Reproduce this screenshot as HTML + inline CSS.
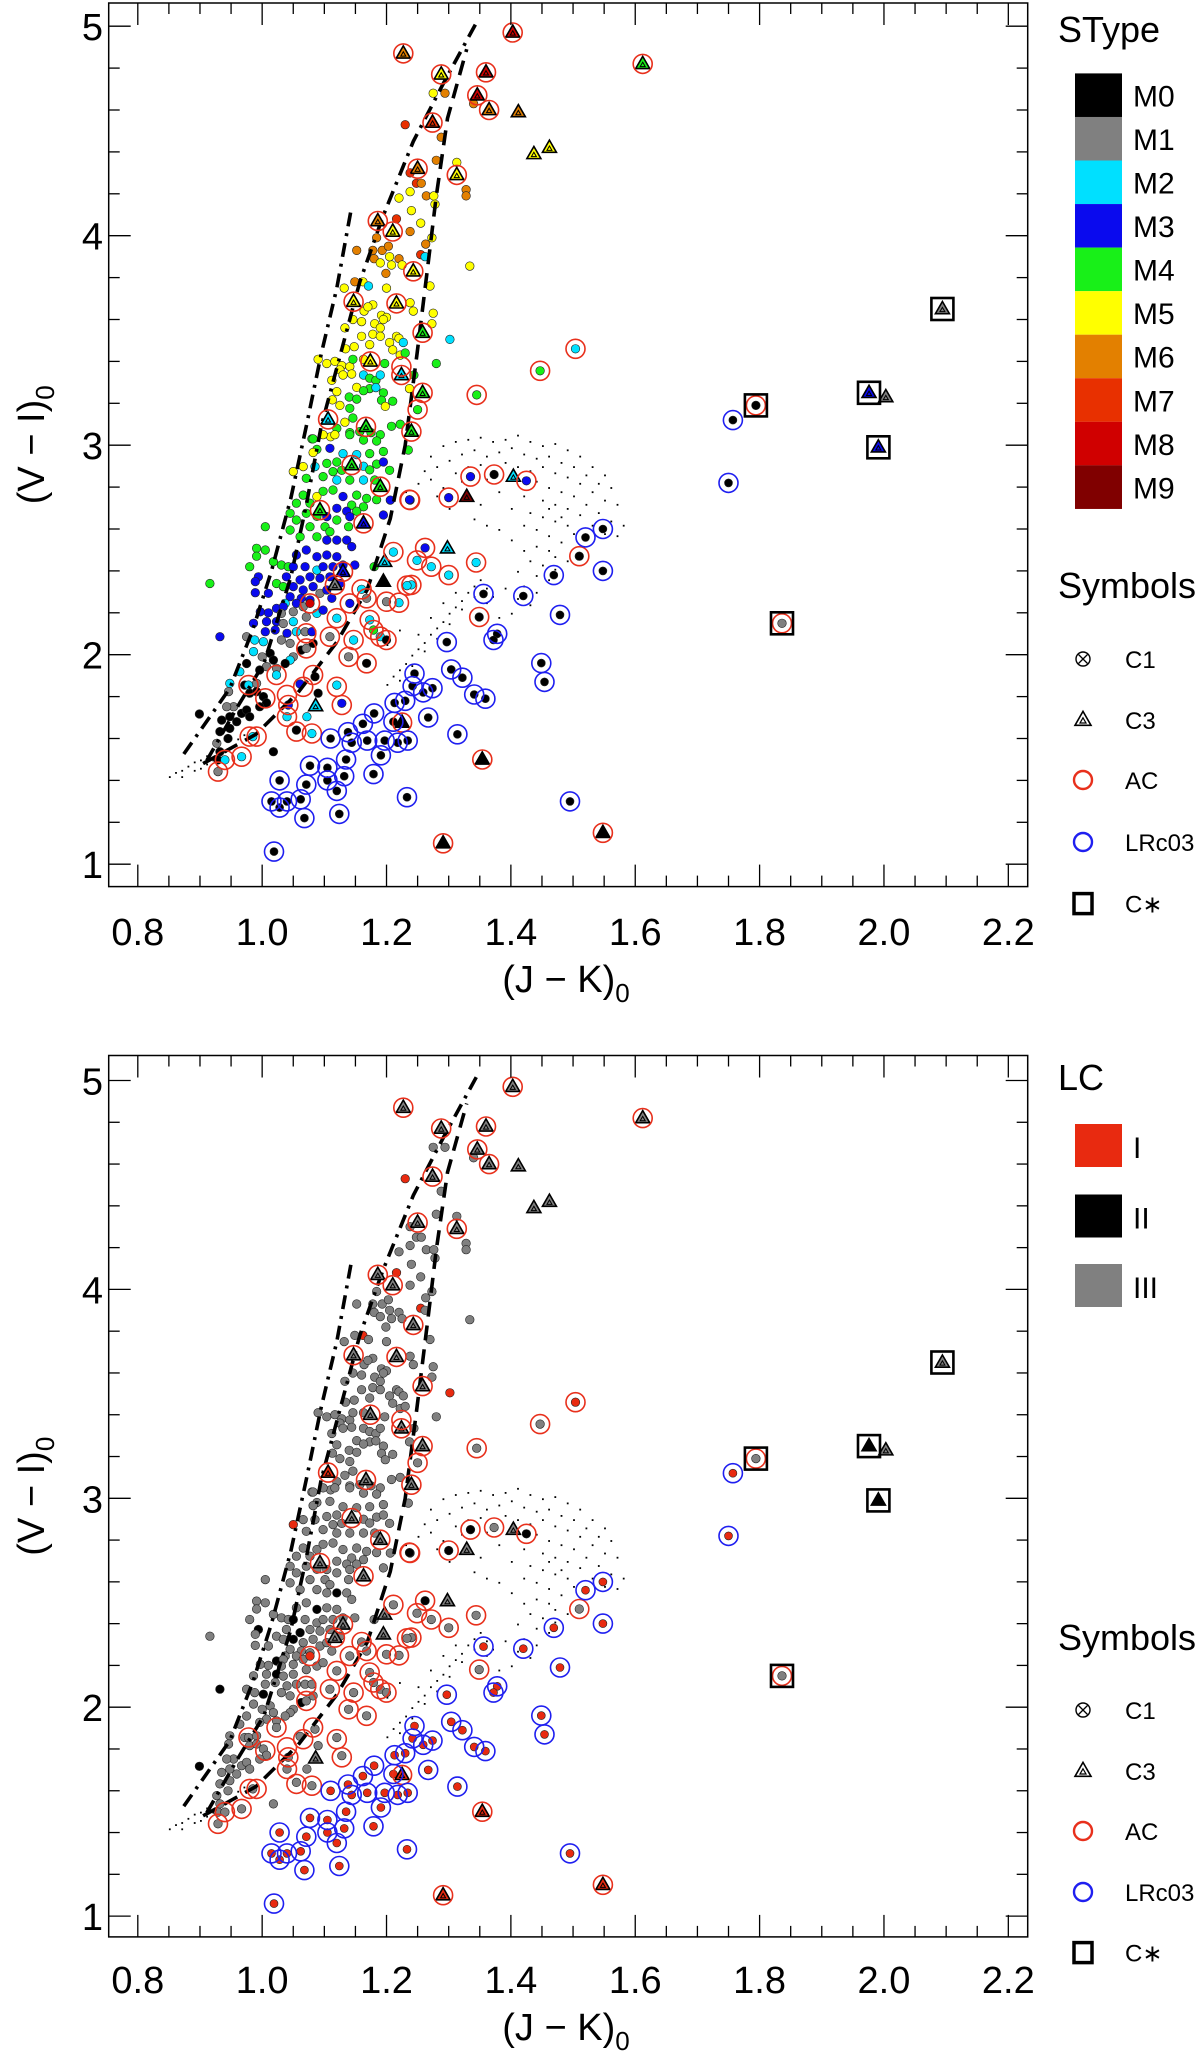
<!DOCTYPE html>
<html><head><meta charset="utf-8"><title>CMD (V-I) vs (J-K)</title>
<style>
html,body{margin:0;padding:0;background:#fff;}
svg{display:block;font-family:"Liberation Sans",sans-serif;}
</style></head>
<body>
<svg id="fig" width="1200" height="2056" viewBox="0 0 1200 2056" xmlns="http://www.w3.org/2000/svg"></svg>
<script>
// ---------- data ----------
const stypeLabels = ["M0","M1","M2","M3","M4","M5","M6","M7","M8","M9"];
const stypeColors = ["#000000","#808080","#00e0ff","#0a0aee","#18f018","#ffff00","#e38000","#e83000","#d00000","#800000"];
const lcLabels = ["I","II","III"];
const lcColors = ["#e82a10","#000000","#808080"];
const xTickLabels = ["0.8","1.0","1.2","1.4","1.6","1.8","2.0","2.2"];
const xTickValues = [0.8,1.0,1.2,1.4,1.6,1.8,2.0,2.2];
const yTickLabels = ["1","2","3","4","5"];
const yTickValues = [1,2,3,4,5];

// dots: [J-K, V-I, stype index, LC (1=I,2=II,3=III)]
const dots = [
[1.275,4.68,5,3],[1.294,4.68,6,3],[1.34,4.63,6,3],[1.23,4.53,7,1],[1.288,4.47,6,3],[1.28,4.36,6,3],[1.313,4.35,5,3],[1.238,4.30,7,3],[1.248,4.25,7,3],[1.256,4.25,6,3],[1.238,4.21,5,3],[1.22,4.18,5,3],[1.264,4.19,6,3],[1.276,4.19,5,3],[1.278,4.15,5,3],[1.328,4.22,6,3],[1.328,4.19,6,3],[1.24,4.12,5,3],[1.216,4.08,7,1],[1.255,4.06,5,3],[1.184,3.99,6,3],[1.238,4.02,6,3],[1.273,3.99,5,3],[1.263,3.96,6,3],[1.152,3.93,6,3],[1.178,3.93,6,3],[1.193,3.93,6,3],[1.203,3.95,6,3],[1.18,3.89,6,3],[1.19,3.87,5,3],[1.208,3.86,5,3],[1.22,3.89,6,3],[1.225,3.86,5,3],[1.205,3.90,5,3],[1.255,3.91,7,1],[1.262,3.90,2,3],[1.199,3.82,6,3],[1.334,3.855,5,3],[1.149,3.78,6,3],[1.162,3.78,5,1],[1.171,3.76,2,3],[1.132,3.75,5,3],[1.2,3.75,5,3],[1.27,3.76,5,3],[1.164,3.64,5,3],[1.178,3.67,5,3],[1.17,3.66,5,3],[1.192,3.62,5,3],[1.2,3.61,5,3],[1.238,3.68,5,3],[1.243,3.64,5,3],[1.275,3.63,5,3],[1.273,3.58,5,3],[1.146,3.60,5,3],[1.16,3.59,5,3],[1.133,3.56,5,3],[1.181,3.58,5,3],[1.19,3.56,5,3],[1.195,3.6,5,3],[1.178,3.53,5,3],[1.19,3.52,5,3],[1.16,3.52,5,3],[1.216,3.52,5,3],[1.22,3.51,5,3],[1.227,3.49,2,3],[1.302,3.505,2,1],[1.205,3.49,5,3],[1.173,3.48,5,3],[1.148,3.47,5,3],[1.134,3.46,5,3],[1.21,3.455,5,3],[1.222,3.43,5,3],[1.23,3.44,4,3],[1.28,3.39,4,3],[1.09,3.41,5,3],[1.104,3.39,5,3],[1.117,3.40,5,3],[1.128,3.38,5,3],[1.141,3.375,5,3],[1.146,3.41,4,3],[1.163,3.41,5,3],[1.197,3.39,4,3],[1.244,3.335,4,3],[1.125,3.36,5,3],[1.13,3.335,5,3],[1.144,3.34,5,3],[1.163,3.335,2,3],[1.173,3.32,4,3],[1.183,3.31,4,3],[1.19,3.335,2,3],[1.152,3.276,5,3],[1.173,3.27,4,3],[1.183,3.275,2,3],[1.195,3.25,4,3],[1.163,3.26,4,3],[1.12,3.256,5,3],[1.112,3.31,5,3],[1.14,3.23,4,3],[1.152,3.22,4,3],[1.192,3.215,4,3],[1.198,3.185,5,3],[1.21,3.21,4,3],[1.237,3.27,5,3],[1.113,3.216,5,3],[1.125,3.19,5,3],[1.141,3.176,4,3],[1.133,3.11,5,3],[1.146,3.13,4,3],[1.141,3.06,4,3],[1.11,3.04,5,3],[1.08,3.03,4,3],[1.12,3.08,4,3],[1.157,3.065,4,3],[1.175,3.06,4,3],[1.19,3.05,4,3],[1.208,3.09,4,3],[1.222,3.1,4,3],[1.25,3.17,4,3],[1.345,3.24,4,3],[1.447,3.355,4,3],[1.504,3.46,2,1],
[1.082,3.03,4,3],[1.098,3.05,5,3],[1.117,3.05,5,3],[1.141,3.05,4,3],[1.163,3.025,4,3],[1.184,3.02,4,3],[1.088,2.98,4,3],[1.109,2.985,3,3],[1.13,2.96,2,3],[1.152,2.955,2,3],[1.173,2.96,4,3],[1.195,2.97,4,3],[1.235,2.977,4,3],[1.082,2.965,5,3],[1.05,2.874,5,1],[1.066,2.898,5,3],[1.085,2.898,2,3],[1.104,2.913,4,3],[1.12,2.92,4,3],[1.114,2.874,4,3],[1.128,2.88,4,3],[1.163,2.9,2,3],[1.173,2.882,4,3],[1.184,2.91,4,3],[1.195,2.92,3,3],[1.205,2.88,4,3],[1.071,2.842,4,3],[1.098,2.85,4,3],[1.12,2.834,2,3],[1.141,2.834,4,3],[1.163,2.834,2,3],[1.181,2.834,4,3],[1.19,2.8,4,3],[1.088,2.755,5,3],[1.066,2.762,4,3],[1.077,2.723,4,3],[1.098,2.78,4,3],[1.114,2.786,4,3],[1.13,2.755,3,3],[1.152,2.762,4,3],[1.168,2.746,4,3],[1.144,2.714,4,3],[1.163,2.706,4,3],[1.184,2.74,4,3],[1.206,2.738,3,3],[1.238,2.738,3,2],[1.055,2.723,4,3],[1.045,2.675,4,3],[1.055,2.643,4,3],[1.071,2.675,4,3],[1.088,2.66,4,3],[1.104,2.659,3,3],[1.12,2.699,3,3],[1.136,2.685,3,3],[1.152,2.685,4,3],[1.141,2.659,3,3],[1.12,2.643,4,3],[1.139,2.611,4,3],[1.101,2.611,4,3],[1.077,2.611,4,3],[1.109,2.587,4,3],[1.005,2.611,4,3],[1.045,2.595,4,3],[1.061,2.563,4,3],[1.088,2.563,4,3],[1.104,2.547,3,3],[1.12,2.547,3,2],[1.136,2.547,3,3],[1.144,2.516,3,3],[1.195,2.667,3,3],[0.991,2.508,4,3],[1.005,2.5,4,3],[0.991,2.47,4,3],[1.018,2.444,4,3],[1.031,2.428,4,3],[1.042,2.42,4,3],[0.98,2.42,4,3],[1.023,2.34,4,3],[1.034,2.325,4,3],[0.916,2.34,4,3],[0.994,2.372,3,2],[1.071,2.5,3,3],[1.088,2.468,3,2],[1.104,2.476,3,3],[1.12,2.468,3,3],[1.055,2.476,3,3],[1.05,2.42,3,2],[1.069,2.42,3,3],[1.088,2.404,2,3],[1.098,2.42,3,3],[1.114,2.42,3,3],[1.13,2.428,3,3],[1.149,2.428,3,3],[1.18,2.42,4,3],[1.039,2.372,3,3],[1.061,2.357,3,2],[1.077,2.372,3,3],[1.093,2.365,3,3],[1.109,2.372,3,3],[1.125,2.34,3,3],[1.05,2.325,3,2],[1.066,2.309,3,3],[1.082,2.325,3,3],[1.093,2.293,1,3],[1.104,2.309,3,3],[1.112,2.269,3,3],[1.063,2.269,3,3],[1.077,2.261,3,3],[1.045,2.277,3,3],[1.055,2.245,3,3],[1.037,2.245,2,3],[0.989,2.349,3,3],[0.989,2.296,3,3],[1.01,2.293,3,3],[0.997,2.205,3,3],[1.01,2.2,3,3],[1.023,2.221,3,2],[1.034,2.229,3,3],[1.031,2.197,1,3],[1.05,2.205,1,3],[1.066,2.229,1,3],[1.071,2.18,1,3],[1.088,2.197,2,3],[1.098,2.213,3,3],[1.007,2.158,3,3],[1.023,2.158,3,2],[1.034,2.149,1,3],[1.05,2.158,2,3],[1.04,2.102,3,3],[0.986,2.15,3,3],[0.975,2.086,1,3],[0.988,2.07,2,3],[1.002,2.062,2,2],[1.005,2.11,3,3],[1.021,2.118,3,3],[1.031,2.07,1,3],[1.045,2.054,1,3],[1.055,2.11,2,3],[1.069,2.11,1,3],[1.08,2.11,3,3],[1.082,2.054,0,3],[1.063,2.022,0,2],[1.05,1.99,1,3],[0.932,2.086,3,2],[0.986,2.015,2,3],[1.0,1.99,1,3],[1.013,2.006,0,3],[1.018,1.974,0,3],[1.045,1.974,2,3],[1.037,1.958,0,3],[1.007,1.943,1,3],[1.023,1.935,1,3],[0.996,1.927,0,3],[0.975,1.958,0,3],[0.964,1.919,2,3],[0.948,1.863,2,3],[0.946,1.824,1,3],[0.972,1.855,0,3],[0.991,1.863,1,3],[0.98,1.816,0,3],[0.991,1.824,0,3],[1.002,1.8,0,3],[1.007,1.77,0,3],[0.996,1.752,0,3],[0.954,1.752,1,3],[0.943,1.752,1,3],[0.967,1.72,0,3],[0.975,1.736,0,3],[0.98,1.704,0,3],[0.948,1.704,0,3],[0.959,1.68,0,3],[0.935,1.688,0,3],[0.948,1.648,0,3],[0.932,1.633,0,3],[0.899,1.717,0,2],[0.945,1.6,0,3],[0.927,1.577,1,3],[0.929,1.498,0,3],[0.932,1.537,0,3],[1.085,1.895,0,3],[1.09,1.816,0,3],[1.018,1.537,0,3],[1.072,1.704,2,3],[1.08,1.624,2,3],[1.055,1.64,0,3],[1.128,1.768,3,3],[1.12,1.855,2,3],[1.023,1.903,2,3],[0.978,1.855,2,3],[0.985,1.609,2,3],[0.94,1.498,2,3],[0.967,1.513,2,3],[0.929,1.442,1,3],[1.061,1.86,3,3],[1.042,1.76,3,3],[1.04,1.704,2,3],[1.141,2.245,3,3],[1.16,2.312,2,3],[1.168,2.269,1,3],[1.2,2.253,1,3],[1.22,2.248,2,3],[1.24,2.333,2,3],[1.12,2.174,2,3],[1.109,2.086,1,3],[1.147,2.07,2,3],[1.173,2.166,2,3],[1.179,2.118,4,3],[1.19,2.086,2,3],[1.2,2.07,0,3],[1.139,1.99,1,3],[1.168,1.959,0,3],[1.071,2.03,1,3],[1.077,2.245,8,1],[1.117,2.333,1,3],
[1.335,2.85,3,2],[1.373,2.86,0,3],[1.425,2.83,3,2],[1.237,2.74,3,2],[1.30,2.75,3,2],[1.211,2.49,2,3],[1.262,2.51,3,2],[1.249,2.45,2,3],[1.272,2.42,2,3],[1.30,2.38,2,3],[1.344,2.44,2,3],[1.51,2.47,0,3],[1.233,2.33,2,3],[1.349,2.18,0,3],[1.794,3.19,0,3],[1.836,2.15,1,3]
];

// C3 triangles: [J-K, V-I, stype, LC]
const tris = [
[1.403,4.97,8,3],[1.227,4.87,6,3],[1.612,4.82,4,3],[1.288,4.77,5,3],[1.36,4.78,8,3],[1.346,4.67,8,3],[1.365,4.60,6,3],[1.412,4.59,6,3],[1.437,4.39,5,3],[1.462,4.42,5,3],[1.274,4.54,7,3],[1.25,4.32,6,3],[1.313,4.29,5,3],[1.186,4.07,6,3],[1.21,4.02,5,3],[1.243,3.83,5,3],[1.147,3.685,5,3],[1.216,3.677,5,3],[1.258,3.537,4,3],[1.174,3.40,5,3],[1.224,3.335,2,3],[1.258,3.25,4,3],[1.106,3.123,2,1],[1.167,3.088,4,3],[1.24,3.065,4,3],[1.144,2.905,4,3],[1.19,2.802,4,3],[1.093,2.69,4,3],[1.163,2.627,3,3],[1.117,2.333,1,3],[1.13,2.396,3,3],[1.298,2.508,2,3],[1.197,2.444,2,3],[1.195,2.349,0,3],[1.329,2.754,9,3],[1.404,2.85,2,3],[1.086,1.755,2,3],[1.225,1.676,0,1],[1.354,1.50,0,1],[1.291,1.10,0,1],[1.548,1.15,0,1],[2.094,3.65,1,3],[1.976,3.25,3,2],[2.003,3.23,1,3],[1.991,2.99,3,2]
];

// AC rings (red)
const acRings = [
[1.403,4.97],[1.227,4.87],[1.612,4.82],[1.288,4.77],[1.36,4.78],[1.346,4.67],[1.365,4.60],[1.274,4.54],[1.25,4.32],[1.313,4.29],[1.186,4.07],[1.21,4.02],[1.243,3.83],[1.147,3.685],[1.216,3.677],[1.258,3.537],[1.174,3.40],[1.224,3.335],[1.224,3.375],[1.258,3.25],[1.106,3.123],[1.167,3.088],[1.24,3.065],[1.144,2.905],[1.19,2.802],[1.093,2.69],[1.163,2.627],[1.117,2.333],[1.13,2.396],[1.225,1.676],[1.354,1.50],[1.291,1.10],[1.548,1.15],
[1.504,3.46],[1.447,3.355],[1.345,3.24],[1.25,3.17],[1.335,2.85],[1.373,2.86],[1.425,2.83],[1.237,2.74],[1.30,2.75],[1.211,2.49],[1.262,2.51],[1.249,2.45],[1.272,2.42],[1.30,2.38],[1.344,2.44],[1.51,2.47],[1.233,2.33],[1.349,2.18],[1.794,3.19],[1.836,2.15],
[1.077,2.245],[1.16,2.312],[1.168,2.269],[1.2,2.253],[1.22,2.248],[1.24,2.333],[1.141,2.245],[1.12,2.174],[1.071,2.102],[1.109,2.086],[1.147,2.07],[1.173,2.166],[1.179,2.118],[1.19,2.086],[1.2,2.07],[1.139,1.99],[1.168,1.959],[1.071,2.03],[1.023,1.903],[1.005,1.792],[1.04,1.808],[1.066,1.847],[1.042,1.76],[1.04,1.704],[1.055,1.633],[1.082,1.903],[1.12,1.847],[1.128,1.76],[1.08,1.624],[0.978,1.855],[0.98,1.609],[0.991,1.609],[0.94,1.498],[0.967,1.513],[0.929,1.442],[1.238,2.738]
];

// LRc03 stars (blue ring + dot)
const lrStars = [
[1.757,3.12],[1.75,2.82],[1.548,2.60],[1.52,2.56],[1.548,2.40],[1.469,2.38],[1.479,2.19],[1.42,2.28],[1.356,2.29],[1.378,2.10],[1.372,2.07],[1.297,2.06],[1.449,1.96],[1.454,1.87],[1.304,1.93],[1.322,1.89],[1.341,1.81],[1.359,1.79],[1.245,1.91],[1.242,1.85],[1.274,1.84],[1.259,1.82],[1.23,1.78],[1.213,1.77],[1.267,1.70],[1.314,1.62],[1.18,1.72],[1.211,1.68],[1.162,1.67],[1.138,1.63],[1.11,1.60],[1.144,1.58],[1.169,1.59],[1.197,1.59],[1.234,1.59],[1.218,1.58],[1.191,1.52],[1.135,1.50],[1.179,1.43],[1.077,1.47],[1.105,1.46],[1.132,1.42],[1.105,1.40],[1.071,1.38],[1.028,1.40],[1.12,1.35],[1.062,1.31],[1.015,1.30],[1.04,1.30],[1.028,1.27],[1.068,1.22],[1.124,1.24],[1.233,1.32],[1.495,1.30],[1.019,1.06]
];

// carbon stars (squares)
const cStars = [[2.094,3.65],[1.976,3.25],[1.991,2.99],[1.794,3.19],[1.836,2.15]];

// small background points
const tiny = [
[1.27,2.95],[1.29,3.0],[1.31,3.02],[1.33,3.03],[1.35,3.04],[1.37,3.02],[1.39,3.03],[1.41,3.05],[1.43,3.02],[1.45,3.0],[1.47,3.01],[1.49,2.98],[1.51,2.95],[1.53,2.9],[1.55,2.86],[1.56,2.8],[1.57,2.72],[1.58,2.62],[1.3,2.93],[1.32,2.96],[1.34,2.98],[1.36,2.95],[1.38,2.97],[1.4,2.99],[1.42,2.96],[1.44,2.94],[1.46,2.95],[1.48,2.92],[1.5,2.9],[1.52,2.86],[1.54,2.82],[1.26,2.88],[1.28,2.9],[1.31,2.87],[1.33,2.9],[1.35,2.91],[1.37,2.88],[1.39,2.92],[1.41,2.9],[1.43,2.88],[1.45,2.9],[1.47,2.87],[1.49,2.85],[1.51,2.82],[1.53,2.78],[1.55,2.74],[1.25,2.82],[1.27,2.84],[1.29,2.8],[1.32,2.83],[1.36,2.84],[1.4,2.85],[1.44,2.83],[1.46,2.8],[1.48,2.78],[1.5,2.76],[1.52,2.72],[1.54,2.68],[1.56,2.64],[1.23,2.78],[1.28,2.76],[1.33,2.77],[1.38,2.78],[1.42,2.76],[1.45,2.74],[1.47,2.72],[1.49,2.7],[1.51,2.67],[1.53,2.62],[1.55,2.58],[1.57,2.57],[1.3,2.7],[1.35,2.72],[1.4,2.7],[1.43,2.68],[1.45,2.66],[1.47,2.64],[1.49,2.62],[1.5,2.58],[1.52,2.55],[1.42,2.62],[1.44,2.6],[1.46,2.57],[1.48,2.54],[1.44,2.52],[1.46,2.5],[1.47,2.47],[1.43,2.45],[1.45,2.43],[1.47,2.41],[1.49,2.45],[1.41,2.4],[1.44,2.38],[1.46,2.36],[1.42,2.33],[1.44,2.3],[1.41,2.27],[1.43,2.24],[1.4,2.2],[1.38,2.18],[1.39,2.32],[1.37,2.28],[1.36,2.25],[1.42,2.5],[1.4,2.55],[1.38,2.6],[1.36,2.62],[1.34,2.65],[1.46,2.7],[1.48,2.66],
[1.2,1.86],[1.21,1.9],[1.22,1.93],[1.23,1.96],[1.24,2.0],[1.25,2.03],[1.26,2.06],[1.27,2.1],[1.28,2.13],[1.29,2.16],[1.3,2.2],[1.31,2.23],[1.32,2.26],[1.33,2.3],[1.34,2.33],[1.35,2.36],[1.22,1.88],[1.24,1.95],[1.26,2.02],[1.28,2.08],[1.3,2.15],[1.32,2.22],[1.34,2.28],[1.36,2.32],[1.25,2.1],[1.27,2.18],[1.29,2.25],[1.31,2.3],[1.2,2.05],[1.22,2.12],
[0.85,1.42],[0.86,1.44],[0.87,1.45],[0.88,1.47],[0.89,1.49],[0.9,1.5],[0.91,1.52],[0.92,1.55],[0.87,1.42],[0.89,1.45],[0.91,1.48],[0.93,1.52],[0.95,1.56],[0.9,1.46],[0.92,1.5],[0.94,1.54],[0.96,1.6],[0.97,1.62]
];

// reference sequences
const seqLeft = [[0.874,1.526],[0.948,1.839],[0.985,2.12],[1.015,2.40],[1.046,2.746],[1.071,3.09],[1.095,3.435],[1.12,3.75],[1.144,4.14]];
const seqMid = [[0.911,1.495],[0.96,1.75],[1.003,1.96],[1.046,2.37],[1.071,2.715],[1.095,3.09],[1.126,3.435],[1.157,3.78],[1.194,4.09],[1.243,4.45],[1.292,4.73],[1.347,5.03]];
const seqRight = [[0.905,1.48],[0.99,1.62],[1.058,1.82],[1.12,2.06],[1.169,2.31],[1.206,2.65],[1.23,3.0],[1.249,3.435],[1.267,3.87],[1.28,4.19],[1.298,4.56],[1.329,4.89]];

// ---------- drawing ----------
const NS = "http://www.w3.org/2000/svg";
const svg = document.getElementById("fig");
function mk(tag, attrs, parent){
  const e = document.createElementNS(NS, tag);
  for (const k in attrs) e.setAttribute(k, attrs[k]);
  (parent||svg).appendChild(e);
  return e;
}
const X0 = 137.8, XK = 621.8;
function sx(v){ return X0 + (v - 0.8) * XK; }
const BOX_L = 108.7, BOX_R = 1027.7;

function triPath(cx, cy, s){
  const h = s*0.87;
  return `M${cx},${cy-h*0.62} L${cx+s/2},${cy+h*0.38} L${cx-s/2},${cy+h*0.38} Z`;
}

function drawPanel(P){
  const sy = v => P.y5 + (5 - v) * P.k;
  const g = mk("g", {});
  
  

  const gt = mk("g", {fill:"#000"}, g);
  
  
  tiny.forEach(p => {
    const r = mk("rect", {x: sx(p[0]).toFixed(1), y: sy(p[1]).toFixed(1), width: 1.8, height: 1.8}, gt);
    
    
  });

  const gd = mk("g", {}, g);
  
  
  dots.forEach(p => {
    const col = P.useLC ? lcColors[p[3]-1] : stypeColors[p[2]];
    const c = mk("circle", {cx: sx(p[0]).toFixed(1), cy: sy(p[1]).toFixed(1), r: 4.3, fill: col, stroke: "#222", "stroke-width": 0.6}, gd);
    
    
  });
  lrStars.forEach(p => {
    const col = P.useLC ? lcColors[0] : stypeColors[0];
    const c = mk("circle", {cx: sx(p[0]).toFixed(1), cy: sy(p[1]).toFixed(1), r: 4.0, fill: col, stroke: "#222", "stroke-width": 0.6}, gd);
    
    
  });

  function curve(pts, dash, name){
    const d = pts.map((p,i) => (i?"L":"M") + sx(p[0]).toFixed(1) + "," + sy(p[1]).toFixed(1)).join(" ");
    const pth = mk("path", {d, fill:"none", stroke:"#000", "stroke-width": 3.6, "stroke-dasharray": dash}, g);
    
    
  }
  curve(seqLeft, "14 7 3 7", "sequence-curve-left");
  curve(seqMid, "14 7 3 7", "sequence-curve-middle");
  curve(seqRight, "15 9", "sequence-curve-right");

  const gtr = mk("g", {}, g);
  
  
  tris.forEach(p => {
    const col = P.useLC ? lcColors[p[3]-1] : stypeColors[p[2]];
    const cx = sx(p[0]), cy = sy(p[1]);
    const t = mk("path", {d: triPath(cx, cy, 14), fill: col, stroke:"#000", "stroke-width": 1.6}, gtr);
    
    
    const t2 = mk("path", {d: triPath(cx, cy+1, 5), fill:"none", stroke:"#000", "stroke-width": 1}, gtr);
    
    
  });

  const gr = mk("g", {fill:"none", "stroke-width": 1.6}, g);
  
  
  acRings.forEach(p => {
    const c = mk("circle", {cx: sx(p[0]).toFixed(1), cy: sy(p[1]).toFixed(1), r: 9.5, stroke: "#e8301c"}, gr);
    
    
  });
  lrStars.forEach(p => {
    const c = mk("circle", {cx: sx(p[0]).toFixed(1), cy: sy(p[1]).toFixed(1), r: 9.5, stroke: "#1f1ff0"}, gr);
    
    
  });
  cStars.forEach(p => {
    const s = mk("rect", {x: (sx(p[0])-11).toFixed(1), y: (sy(p[1])-11).toFixed(1), width: 22, height: 22, fill:"none", stroke:"#000", "stroke-width": 2.6}, gr);
    
    
  });

  const fr = mk("rect", {x: BOX_L, y: P.top, width: BOX_R-BOX_L, height: P.bottom-P.top, fill:"none", stroke:"#000", "stroke-width": 1.5}, g);
  
  

  const gk = mk("g", {stroke:"#000", "stroke-width": 1.3}, g);
  
  
  for (let i = 0; i <= 29; i++){
    const v = 0.75 + i*0.05;
    const x = sx(v);
    if (x < BOX_L+1 || x > BOX_R-1) continue;
    const major = Math.abs(v*5 - Math.round(v*5)) < 1e-6;
    const L = major ? 22 : 11;
    mk("line", {x1:x, y1:P.bottom, x2:x, y2:P.bottom-L}, gk);
    mk("line", {x1:x, y1:P.top, x2:x, y2:P.top+L}, gk);
  }
  for (let i = 0; i <= 25; i++){
    const v = 0.8 + i*0.2;
    const y = sy(v);
    if (y < P.top+1 || y > P.bottom-1) continue;
    const major = Math.abs(v - Math.round(v)) < 1e-6;
    const L = major ? 22 : 11;
    mk("line", {x1:BOX_L, y1:y, x2:BOX_L+L, y2:y}, gk);
    mk("line", {x1:BOX_R, y1:y, x2:BOX_R-L, y2:y}, gk);
  }

  xTickValues.forEach((v,i) => {
    const t = mk("text", {x: sx(v), y: P.xLabelY, "font-size": 38, "text-anchor":"middle", fill:"#000"}, g);
    t.textContent = xTickLabels[i];
    
    
  });
  yTickValues.forEach((v,i) => {
    const t = mk("text", {x: 103, y: sy(v)+14, "font-size": 38, "text-anchor":"end", fill:"#000"}, g);
    t.textContent = yTickLabels[i];
    
    
  });

  const xt = mk("text", {x: 566, y: P.xTitleY, "font-size": 38, "text-anchor":"middle", fill:"#000"}, g);
  xt.innerHTML = '(J \u2212 K)<tspan font-size="26" dy="10">0</tspan>';
  
  
  const yc = P.top + (P.bottom - P.top) * 0.5;
  const yt = mk("text", {x: 0, y: 0, "font-size": 38, "text-anchor":"middle", fill:"#000", transform:`translate(44,${yc}) rotate(-90)`}, g);
  yt.innerHTML = '(V \u2212 I)<tspan font-size="26" dy="10">0</tspan>';
  
  
}

drawPanel({name:"panel-spectral-type", top:3, bottom:886.6, y5:26.2, k:209.5, xLabelY:945, xTitleY:992, useLC:false});
drawPanel({name:"panel-luminosity-class", top:1055.5, bottom:1936.9, y5:1080.5, k:208.9, xLabelY:1993, xTitleY:2040, useLC:true});

// ---------- legends ----------
function text(x, y, s, size, name, anchor){
  const t = mk("text", {x, y, "font-size": size, fill:"#000", "text-anchor": anchor||"start"});
  t.textContent = s;
  
  
  return t;
}
text(1058, 42, "SType", 36, "stype-legend-title");
stypeLabels.forEach((lab,i) => {
  const y = 73.4 + i*43.55;
  const r = mk("rect", {x:1075, y:y, width:47, height:43.6, fill: stypeColors[i]});
  
  
  text(1133, y+33, lab, 30, "stype-legend-label");
});

text(1058, 1090, "LC", 36, "lc-legend-title");
const lcY = [1124, 1194.5, 1264];
lcLabels.forEach((lab,i) => {
  const r = mk("rect", {x:1075, y:lcY[i], width:47, height:43, fill: lcColors[i]});
  
  
  text(1133, lcY[i]+34, lab, 30, "lc-legend-label");
});

function symbolLegend(y0, items){
  text(1058, y0, "Symbols", 36, "symbols-legend-title");
  items.forEach((yy, i) => {
    const cx = 1083;
    const g = mk("g", {});
    
    
    if (i === 0){
      mk("circle", {cx, cy:yy, r:7, fill:"none", stroke:"#000", "stroke-width":1.4}, g);
      mk("path", {d:`M${cx-4.5},${yy-4.5} L${cx+4.5},${yy+4.5} M${cx+4.5},${yy-4.5} L${cx-4.5},${yy+4.5}`, stroke:"#000", "stroke-width":1.3}, g);
    } else if (i === 1){
      mk("path", {d: triPath(cx, yy, 16), fill:"none", stroke:"#000", "stroke-width":1.6}, g);
      mk("path", {d: triPath(cx, yy+1, 6), fill:"none", stroke:"#000", "stroke-width":1.2}, g);
    } else if (i === 2){
      mk("circle", {cx, cy:yy, r:9, fill:"none", stroke:"#e8301c", "stroke-width":2.4}, g);
    } else if (i === 3){
      mk("circle", {cx, cy:yy, r:9, fill:"none", stroke:"#1f1ff0", "stroke-width":2.4}, g);
    } else {
      mk("rect", {x:cx-9, y:yy-10, width:18, height:20, fill:"none", stroke:"#000", "stroke-width":3.5}, g);
    }
    text(1125, yy+9, ["C1","C3","AC","LRc03","C\u2217"][i], 24, "symbol-legend-label");
  });
}
symbolLegend(598, [659, 720, 780, 842, 903.6]);
symbolLegend(1650, [1710, 1771, 1831, 1892, 1952.6]);
</script>
</body></html>
